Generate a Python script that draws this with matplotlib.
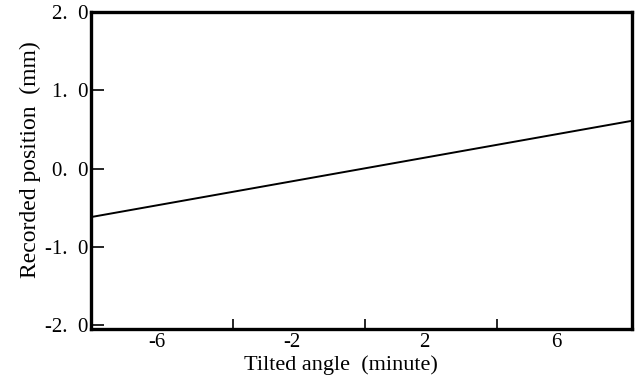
import matplotlib
matplotlib.use("Agg")
import matplotlib.pyplot as plt
import numpy as np

# Data
angle = [-8.3, 8.1]          # tilted angle (minute)
position = [-0.62, 0.61]     # recorded position (mm)
major_xticks = [-4, 0, 4]
label_xticks = [-6.3, -2.2, 1.8, 5.8]
label_xtexts = ["-6", "-2", "2", "6"]
yticks = [-2.0, -1.0, 0.0, 1.0, 2.0]
ytexts = ["-2.  0", "-1.  0", "0.  0", "1.  0", "2.  0"]

plt.rcParams['font.family'] = ['Liberation Serif', 'DejaVu Serif']

fig = plt.figure(figsize=(6.42, 3.81), dpi=100)
ax = fig.add_axes([91/642, 1-329/381, (632-91)/642, (329-12)/381])

ax.plot(angle, position, color='black', lw=1.4)
ax.set_xlim(-8.3, 8.1)
ax.set_ylim(-2.05, 2.0)

ax.set_xticks(major_xticks)
ax.set_xticklabels([])
ax.set_xticks(label_xticks, minor=True)
ax.set_xticklabels(label_xtexts, minor=True, fontsize=15)
ax.tick_params(axis='x', which='major', direction='in', length=7, width=1.2)
ax.tick_params(axis='x', which='minor', length=0, pad=3)

ax.set_yticks(yticks)
ax.set_yticklabels(ytexts, fontsize=15)
ax.tick_params(axis='y', direction='in', length=9, width=1.2, pad=2)

for s in ax.spines.values():
    s.set_linewidth(2.4)

ax.set_xlabel("Tilted angle  (minute)", fontsize=16)
ax.set_ylabel("Recorded position  (mm)", fontsize=17)
ax.xaxis.set_label_coords((341-91)/(632-91), -(365-329)/(329-12), transform=ax.transAxes)
ax.yaxis.set_label_coords(-(91-30)/(632-91), (329-160)/(329-12), transform=ax.transAxes)
ax.xaxis.label.set_va('center')
ax.yaxis.label.set_va('center')

fig.savefig("out.png", dpi=100)
